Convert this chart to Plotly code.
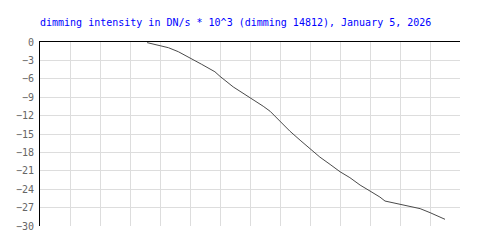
import plotly.graph_objects as go

title_text = "dimming intensity in DN/s * 10^3 (dimming 14812), January 5, 2026"
x_vals = [3.57, 3.83, 4.28, 4.61, 5.0, 5.39, 5.83, 6.0, 6.44, 7.0, 7.44, 7.67, 8.0, 8.33,
          8.67, 9.0, 9.33, 9.67, 10.0, 10.33, 10.67, 11.0, 11.33, 11.5, 12.0, 12.33,
          12.67, 13.0, 13.5]
y_vals = [-0.1, -0.39, -0.93, -1.58, -2.55, -3.64, -4.85, -5.6, -7.32, -9.01, -10.47,
          -11.29, -12.92, -14.54, -16.01, -17.41, -18.77, -19.96, -21.15, -22.12, -23.33,
          -24.3, -25.28, -25.93, -26.42, -26.74, -27.17, -27.82, -28.91]
y_ticks = [0, -3, -6, -9, -12, -15, -18, -21, -24, -27, -30]

fig = go.Figure(go.Scatter(x=x_vals, y=y_vals, mode="lines",
                           line=dict(color="#4a4a4a", width=1), hoverinfo="skip"))

mono = "DejaVu Sans Mono"
fig.update_layout(
    width=500, height=250,
    margin=dict(l=40, r=40, t=42, b=24),
    paper_bgcolor="white", plot_bgcolor="white",
    showlegend=False,
    title=dict(text=title_text, font=dict(family=mono, size=10, color="#0000ff"),
               xref="container", x=40/500, xanchor="left",
               yref="container", y=1-22/250, yanchor="middle"),
    xaxis=dict(range=[0, 14], dtick=1, tick0=0, showticklabels=False, ticks="",
               side="top", showline=True, linecolor="black", linewidth=1,
               showgrid=True, gridcolor="#dddddd", gridwidth=1, zeroline=False,
               fixedrange=True),
    yaxis=dict(range=[-30, 0], tickvals=y_ticks, ticks="", ticklabelstandoff=3,
               showline=True, linecolor="black", linewidth=1,
               showgrid=True, gridcolor="#dddddd", gridwidth=1, zeroline=False,
               tickfont=dict(family=mono, size=10, color="#666666"),
               fixedrange=True),
)

fig.write_html("out.html", config={"displayModeBar": False})
